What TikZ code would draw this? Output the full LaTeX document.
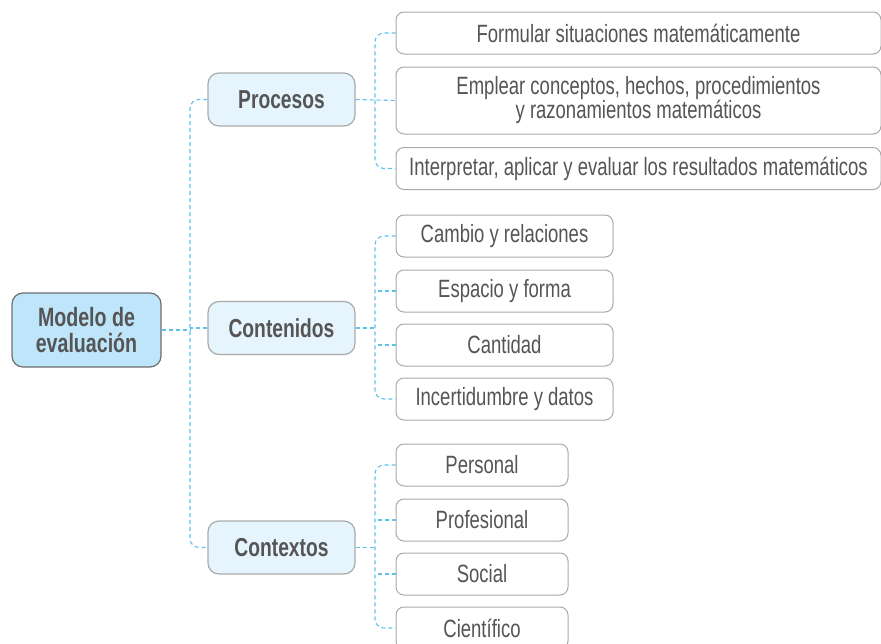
\documentclass[tikz,border=0pt]{standalone}
\usepackage{fontspec}
\setmainfont[FakeStretch=0.74]{Liberation Sans}
\definecolor{txt}{HTML}{555555}
\definecolor{edge}{HTML}{AAAAAA}
\definecolor{rootfill}{HTML}{BFE5FA}
\definecolor{rootedge}{HTML}{6E6E6E}
\definecolor{midfill}{HTML}{E5F4FD}
\definecolor{link}{HTML}{5EC2EC}
\begin{document}
\begin{tikzpicture}[x=1pt,y=-1pt,
  rootbox/.style={draw=rootedge, line width=1.2pt, fill=rootfill, rounded corners=11pt,
    minimum width=149pt, minimum height=74pt, align=center, text=txt,
    font=\fontsize{26.5}{26}\selectfont\bfseries, inner sep=0pt},
  midbox/.style={draw=edge, line width=1.2pt, fill=midfill, rounded corners=11pt,
    minimum width=147pt, minimum height=53pt, text=txt,
    font=\fontsize{26}{26}\selectfont\bfseries, inner sep=0pt},
  leafbox/.style={draw=edge, line width=1pt, fill=white, rounded corners=8pt,
    minimum height=42pt, align=center, text=txt,
    font=\fontsize{25}{24}\selectfont, inner sep=0pt},
  conn/.style={draw=link, line width=1.1pt, dash pattern=on 4pt off 3pt, rounded corners=9pt}]
\useasboundingbox (0,0) rectangle (881,643);

% root and second level
\node[rootbox] (root) at (86.5,330) {Modelo de\\evaluación};
\node[midbox] (pro) at (281.5,99.5) {Procesos};
\node[midbox] (con) at (281.5,328) {Contenidos};
\node[midbox] (ctx) at (281.5,547.5) {Contextos};

% procesos
\node[leafbox, minimum width=485pt] (p1) at (638.5,33) {Formular situaciones matemáticamente};
\node[leafbox, minimum width=485pt, minimum height=67pt] (p2) at (638.5,100.5) {Emplear conceptos, hechos, procedimientos\\y razonamientos matemáticos};
\node[leafbox, minimum width=485pt] (p3) at (638.5,168.5) {Interpretar, aplicar y evaluar los resultados matemáticos};

% contenidos
\node[leafbox, minimum width=217pt] (c1) at (504.5,236) {Cambio y relaciones};
\node[leafbox, minimum width=217pt] (c2) at (504.5,291) {Espacio y forma};
\node[leafbox, minimum width=217pt] (c3) at (504.5,345) {Cantidad};
\node[leafbox, minimum width=217pt] (c4) at (504.5,399) {Incertidumbre y datos};

% contextos
\node[leafbox, minimum width=172pt] (x1) at (482,465) {Personal};
\node[leafbox, minimum width=172pt] (x2) at (482,520) {Profesional};
\node[leafbox, minimum width=172pt] (x3) at (482,574) {Social};
\node[leafbox, minimum width=172pt] (x4) at (482,628) {Científico};

% trunk
\coordinate (trunk) at (190,330);
\draw[conn] (pro.west) -- (190,99.5) -- (190,547.5) -- (ctx.west);
\draw[conn] (root.east) -- (trunk);
\draw[conn] (con.west) -- (con.west -| trunk);

% procesos bus
\draw[conn] (p1.west) -- (375,33) -- (375,168.5) -- (p3.west);
\draw[conn] (pro.east) -- (p2.west);

% contenidos bus
\draw[conn] (c1.west) -- (375,236) -- (375,399) -- (c4.west);
\draw[conn] (con.east) -- (375,328);
\draw[conn] (c2.west) -- (375,291);
\draw[conn] (c3.west) -- (375,345);

% contextos bus
\draw[conn] (x1.west) -- (375,465) -- (375,628) -- (x4.west);
\draw[conn] (ctx.east) -- (375,547.5);
\draw[conn] (x2.west) -- (375,520);
\draw[conn] (x3.west) -- (375,574);
\end{tikzpicture}
\end{document}
